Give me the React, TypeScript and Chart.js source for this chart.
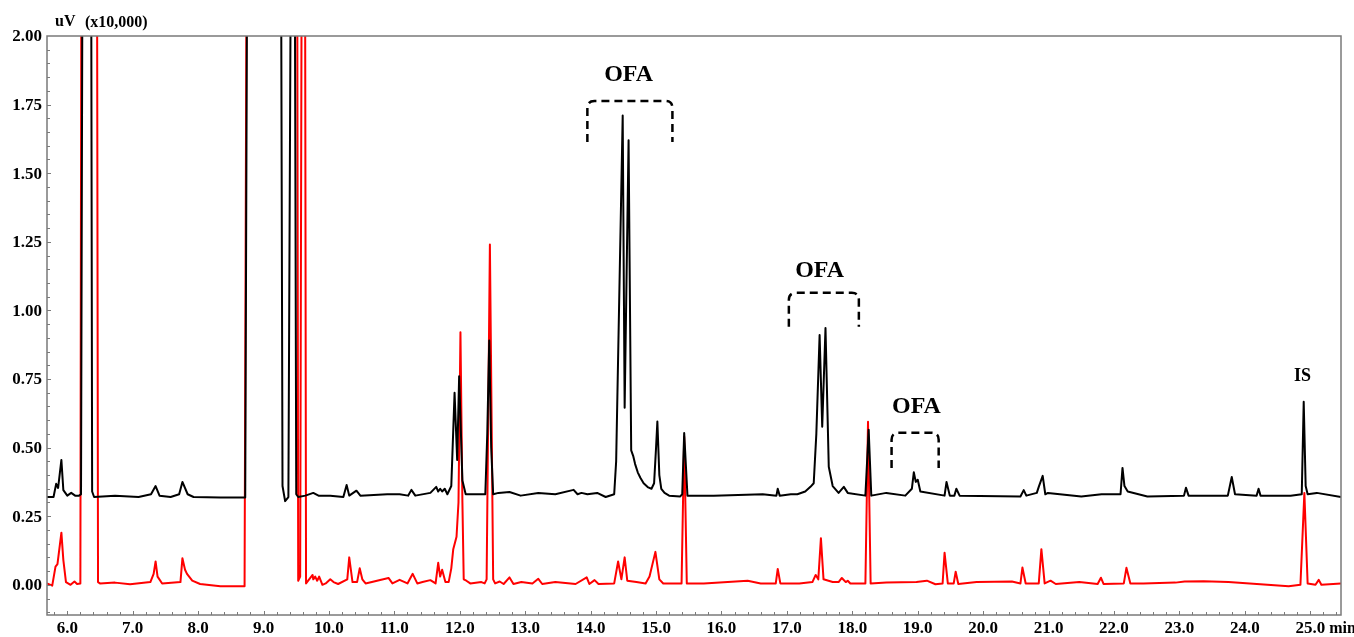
import React, { useEffect, useRef } from "react";
import { Chart, registerables } from "chart.js";

Chart.register(...registerables);

// ---- Data (retention time in min, signal in uV x10,000) ----
const blackTimes = [
  5.69, 5.79, 5.83, 5.86, 5.91, 5.94, 6.0, 6.06, 6.12, 6.18, 6.21, 6.24, 6.36, 6.38, 6.41,
  6.73, 7.09, 7.28, 7.35, 7.41, 7.58, 7.71, 7.76, 7.84, 7.93, 8.34, 8.72, 8.76, 9.26, 9.29,
  9.33, 9.38, 9.43, 9.47, 9.5, 9.53, 9.64, 9.76, 9.84, 10.02, 10.22, 10.27, 10.31, 10.42,
  10.48, 10.89, 11.08, 11.21, 11.26, 11.32, 11.55, 11.64, 11.67, 11.7, 11.73, 11.77, 11.81,
  11.87, 11.92, 11.96, 11.99, 12.04, 12.09, 12.39, 12.42, 12.45, 12.48, 12.51, 12.59, 12.76,
  12.93, 13.2, 13.46, 13.74, 13.8, 13.86, 13.95, 14.1, 14.23, 14.36, 14.39, 14.49, 14.52,
  14.58, 14.62, 14.65, 14.68, 14.72, 14.76, 14.81, 14.88, 14.93, 14.97, 15.0, 15.02, 15.05,
  15.08, 15.13, 15.2, 15.37, 15.4, 15.43,
  15.48, 15.88, 16.63, 16.84, 16.86, 16.89, 17.06, 17.16, 17.28, 17.36, 17.41, 17.45, 17.5,
  17.54, 17.59, 17.64, 17.7, 17.79, 17.87, 17.93, 18.2, 18.25, 18.29, 18.52, 18.81, 18.91,
  18.94, 18.97, 19.0, 19.04, 19.41, 19.44, 19.49, 19.56, 19.59, 19.64, 20.57, 20.62, 20.66,
  20.82, 20.85, 20.91, 20.95, 20.99, 21.5, 21.81, 22.1, 22.13, 22.16, 22.21, 22.51, 23.07,
  23.1, 23.14, 23.74, 23.8, 23.85, 24.18, 24.21, 24.24, 24.7, 24.87, 24.9, 24.93, 24.96,
  25.1, 25.47,
];
const blackValues = [
  0.32, 0.32, 0.368, 0.353, 0.455, 0.345, 0.325, 0.335, 0.325, 0.325, 0.33, 3.0, 3.0, 0.34, 0.32,
  0.325, 0.32, 0.33, 0.36, 0.325, 0.32, 0.33, 0.375, 0.33, 0.32, 0.318, 0.318, 3.0, 3.0, 0.36,
  0.305, 0.32, 3.0, 3.0, 0.33, 0.32, 0.325, 0.335, 0.325, 0.325, 0.32, 0.364, 0.325, 0.343,
  0.325, 0.33, 0.33, 0.325, 0.346, 0.325, 0.335, 0.357, 0.34, 0.35, 0.34, 0.35, 0.33,
  0.36, 0.7, 0.455, 0.76, 0.38, 0.33, 0.33, 0.55, 0.89, 0.5, 0.33, 0.335, 0.338,
  0.325, 0.335, 0.33, 0.346, 0.33, 0.335, 0.33, 0.335, 0.32, 0.33, 0.45, 1.71, 0.645,
  1.62, 0.49, 0.47, 0.44, 0.41, 0.39, 0.37, 0.355, 0.35, 0.37, 0.5, 0.595, 0.4,
  0.35, 0.335, 0.325, 0.322, 0.33, 0.553,
  0.325, 0.325, 0.33, 0.325, 0.35, 0.325, 0.33, 0.33, 0.34, 0.357, 0.37, 0.55, 0.91,
  0.576, 0.936, 0.43, 0.36, 0.335, 0.357, 0.335, 0.325, 0.565, 0.325, 0.335, 0.325, 0.35,
  0.41, 0.375, 0.383, 0.34, 0.325, 0.375, 0.325, 0.325, 0.35, 0.325, 0.322, 0.345, 0.325,
  0.335, 0.357, 0.397, 0.33, 0.335, 0.322, 0.33, 0.33, 0.426, 0.36, 0.34, 0.322, 0.325,
  0.354, 0.325, 0.325, 0.393, 0.33, 0.325, 0.35, 0.325, 0.325, 0.33, 0.667, 0.36, 0.33,
  0.335, 0.32,
];

const redTimes = [
  5.69, 5.77, 5.82, 5.85, 5.91, 5.94, 5.98, 6.05, 6.11, 6.15, 6.2, 6.22, 6.45, 6.47, 6.5,
  6.73, 6.96, 7.27, 7.32, 7.35, 7.38, 7.45, 7.73, 7.76, 7.8, 7.83, 7.91, 8.03, 8.34, 8.71,
  8.75, 9.51, 9.53, 9.56, 9.59, 9.63, 9.65, 9.75, 9.76, 9.79, 9.82, 9.85, 9.9, 9.95, 10.02,
  10.07, 10.14, 10.28, 10.31, 10.36, 10.43, 10.47, 10.51, 10.56, 10.91, 10.97, 11.08, 11.2,
  11.28, 11.35, 11.43, 11.55, 11.63, 11.67, 11.7, 11.73, 11.78, 11.83, 11.87, 11.9, 11.95,
  11.98, 12.01, 12.04, 12.06, 12.1, 12.16, 12.33, 12.38, 12.41, 12.46, 12.51, 12.54, 12.61,
  12.67, 12.76, 12.82, 12.94, 13.11, 13.2, 13.26, 13.46, 13.77, 13.94, 13.98, 14.06, 14.12,
  14.36, 14.42, 14.47, 14.52, 14.56, 14.7, 14.84, 14.9, 14.99, 15.05, 15.11, 15.39, 15.43,
  15.47, 15.73, 16.4, 16.6, 16.83, 16.86, 16.9, 17.19, 17.39, 17.44, 17.48, 17.52, 17.56,
  17.7, 17.79, 17.84, 17.9, 17.93, 17.97, 18.2, 18.24, 18.28, 18.52, 18.98, 19.14, 19.27,
  19.38, 19.41, 19.46, 19.55, 19.58, 19.62, 19.9, 20.44, 20.57, 20.6, 20.65, 20.85, 20.89,
  20.94, 21.03, 21.11, 21.47, 21.75, 21.8, 21.84, 22.15, 22.19, 22.25, 22.45, 22.94, 23.08,
  23.37, 23.75, 24.67, 24.85, 24.91, 24.96, 25.08, 25.13, 25.17, 25.47,
];
const redValues = [
  0.005, -0.003, 0.066, 0.075, 0.19, 0.09, 0.01, 0.0, 0.012, 0.003, 0.005, 3.0, 3.0, 0.01, 0.005,
  0.008, 0.002, 0.01, 0.04, 0.085, 0.03, 0.005, 0.01, 0.097, 0.055, 0.04, 0.015, 0.003, -0.005, -0.005,
  3.0, 3.0, 0.015, 0.03, 3.0, 3.0, 0.005, 0.036, 0.02, 0.03, 0.015, 0.03, 0.0, 0.005, 0.02,
  0.01, 0.003, 0.02, 0.1, 0.01, 0.01, 0.06, 0.02, 0.005, 0.025, 0.005, 0.018, 0.005,
  0.04, 0.005, 0.01, 0.017, 0.005, 0.08, 0.03, 0.055, 0.01, 0.01, 0.06, 0.13, 0.175,
  0.3, 0.92, 0.3, 0.02, 0.015, 0.005, 0.01, 0.005, 0.02, 1.24, 0.02, 0.005, 0.012,
  0.003, 0.027, 0.003, 0.01, 0.005, 0.022, 0.003, 0.01, 0.003, 0.027, 0.003, 0.017, 0.003,
  0.005, 0.085, 0.02, 0.1, 0.015, 0.01, 0.005, 0.03, 0.12, 0.02, 0.005, 0.005, 0.54,
  0.005, 0.005, 0.015, 0.005, 0.005, 0.058, 0.005, 0.005, 0.01, 0.036, 0.02, 0.17, 0.02,
  0.01, 0.01, 0.025, 0.01, 0.015, 0.005, 0.005, 0.594, 0.005, 0.008, 0.01, 0.015, 0.002,
  0.005, 0.117, 0.005, 0.005, 0.048, 0.003, 0.01, 0.012, 0.005, 0.063, 0.005, 0.005, 0.13,
  0.005, 0.015, 0.003, 0.01, 0.003, 0.026, 0.003, 0.005, 0.062, 0.005, 0.005, 0.008, 0.012,
  0.013, 0.01, -0.005, 0.0, 0.335, 0.005, 0.0, 0.018, 0.0, 0.005,
];

// ---- Axes ----
const xMin = 5.69;
const xMax = 25.47;
const yMin = -0.11;
const yMax = 2.0;
const xTickValues = [6, 7, 8, 9, 10, 11, 12, 13, 14, 15, 16, 17, 18, 19, 20, 21, 22, 23, 24, 25];
const xTickLabels = ["6.0", "7.0", "8.0", "9.0", "10.0", "11.0", "12.0", "13.0", "14.0", "15.0", "16.0", "17.0", "18.0", "19.0", "20.0", "21.0", "22.0", "23.0", "24.0", "25.0"];
const xUnit = "min";
const yTickValues = [0, 0.25, 0.5, 0.75, 1.0, 1.25, 1.5, 1.75, 2.0];
const yTickLabels = ["0.00", "0.25", "0.50", "0.75", "1.00", "1.25", "1.50", "1.75", "2.00"];
const yUnitLabel = "uV";
const yScaleLabel = "(x10,000)";

// ---- Annotations (data coordinates) ----
const bracketLabels = ["OFA", "OFA", "OFA"];
const bracketStart = [13.95, 17.03, 18.6];
const bracketEnd = [15.25, 18.1, 19.32];
const bracketTop = [1.763, 1.064, 0.554];
const bracketBottom = [1.614, 0.94, 0.426];
const bracketLabelX = [14.58, 17.5, 18.98];
const bracketLabelY = [1.858, 1.144, 0.648];
const isLabel = "IS";
const isLabelX = 24.88;
const isLabelY = 0.758;

const SERIF = '"Liberation Serif", "Times New Roman", serif';

const decorPlugin = {
  id: "decor",
  afterDatasetsDraw(chart: any) {
    const { ctx, chartArea: a } = chart;
    const xs = chart.scales.x;
    const ys = chart.scales.y;
    ctx.save();
    // frame
    ctx.strokeStyle = "#7a7a7a";
    ctx.lineWidth = 1.5;
    ctx.setLineDash([]);
    ctx.strokeRect(a.left, a.top, a.right - a.left, a.bottom - a.top);

    // minor ticks (inward)
    ctx.lineWidth = 1;
    ctx.strokeStyle = "#7a7a7a";
    ctx.beginPath();
    for (let i = 0; i < xTickValues.length; i++) {
      const base = xTickValues[i];
      for (let k = -4; k <= 4; k++) {
        const v = base + k * 0.2;
        if (v <= xMin || v >= xMax) continue;
        const px = Math.round(xs.getPixelForValue(v)) + 0.5;
        const len = k === 0 ? 4 : 3;
        ctx.moveTo(px, a.bottom);
        ctx.lineTo(px, a.bottom - len);
      }
    }
    for (let i = 0; i < yTickValues.length; i++) {
      const base = yTickValues[i];
      for (let k = -2; k <= 2; k++) {
        const v = base + k * 0.05;
        if (v <= yMin || v >= yMax) continue;
        const py = Math.round(ys.getPixelForValue(v)) + 0.5;
        const len = k === 0 ? 4 : 3;
        ctx.moveTo(a.left, py);
        ctx.lineTo(a.left + len, py);
      }
    }
    ctx.stroke();

    // tick labels
    ctx.fillStyle = "#000";
    ctx.font = `bold 17px ${SERIF}`;
    ctx.textAlign = "right";
    ctx.textBaseline = "middle";
    yTickValues.forEach((v, i) => {
      ctx.fillText(yTickLabels[i], a.left - 5, ys.getPixelForValue(v) + 1);
    });
    xTickValues.forEach((v, i) => {
      const px = xs.getPixelForValue(v);
      const label = xTickLabels[i];
      const w = ctx.measureText(label).width;
      ctx.textAlign = "left";
      ctx.fillText(label, px - w / 2, a.bottom + 14);
      if (i === xTickValues.length - 1) {
        ctx.font = `bold 16px ${SERIF}`;
        ctx.fillText(xUnit, px + w / 2 + 4, a.bottom + 14);
        ctx.font = `bold 17px ${SERIF}`;
      }
    });

    // y unit
    ctx.font = `bold 16px ${SERIF}`;
    ctx.textAlign = "left";
    ctx.textBaseline = "middle";
    ctx.fillText(yUnitLabel, 55, a.top - 14);
    ctx.fillText(yScaleLabel, 85, a.top - 13);

    // brackets
    ctx.strokeStyle = "#000";
    ctx.lineWidth = 2.5;
    ctx.setLineDash([8, 5]);
    for (let i = 0; i < bracketLabels.length; i++) {
      const x0 = xs.getPixelForValue(bracketStart[i]);
      const x1 = xs.getPixelForValue(bracketEnd[i]);
      const yt = ys.getPixelForValue(bracketTop[i]);
      const yb = ys.getPixelForValue(bracketBottom[i]);
      const r = 7;
      ctx.beginPath();
      ctx.moveTo(x0, yb);
      ctx.lineTo(x0, yt + r);
      ctx.quadraticCurveTo(x0, yt, x0 + r, yt);
      ctx.lineTo(x1 - r, yt);
      ctx.quadraticCurveTo(x1, yt, x1, yt + r);
      ctx.lineTo(x1, yb);
      ctx.stroke();
    }
    ctx.setLineDash([]);
    ctx.fillStyle = "#000";
    ctx.textAlign = "center";
    ctx.textBaseline = "middle";
    ctx.font = `bold 24px ${SERIF}`;
    for (let i = 0; i < bracketLabels.length; i++) {
      ctx.fillText(bracketLabels[i], xs.getPixelForValue(bracketLabelX[i]), ys.getPixelForValue(bracketLabelY[i]));
    }
    ctx.font = `bold 18px ${SERIF}`;
    ctx.fillText(isLabel, xs.getPixelForValue(isLabelX), ys.getPixelForValue(isLabelY));
    ctx.restore();
  },
};

export default function App() {
  const canvasRef = useRef<HTMLCanvasElement | null>(null);

  useEffect(() => {
    if (!canvasRef.current) return;
    const black = blackTimes.map((t, i) => ({ x: t, y: blackValues[i] }));
    const red = redTimes.map((t, i) => ({ x: t, y: redValues[i] }));
    const chart = new Chart(canvasRef.current, {
      type: "line",
      data: {
        datasets: [
          {
            label: "Sample A",
            data: black,
            borderColor: "#000000",
            borderWidth: 2,
            pointRadius: 0,
            tension: 0,
            borderJoinStyle: "round",
            fill: false,
            order: 0,
          },
          {
            label: "Sample B",
            data: red,
            borderColor: "#ff0000",
            borderWidth: 2,
            pointRadius: 0,
            tension: 0,
            borderJoinStyle: "round",
            fill: false,
            order: 1,
          },
        ],
      },
      options: {
        animation: false,
        responsive: false,
        maintainAspectRatio: false,
        events: [],
        layout: { padding: { left: 47, top: 36, right: 13, bottom: 22 } },
        plugins: {
          legend: { display: false },
          tooltip: { enabled: false },
        },
        scales: {
          x: { type: "linear", min: xMin, max: xMax, display: false },
          y: { type: "linear", min: yMin, max: yMax, display: false },
        },
      },
      plugins: [decorPlugin],
    });
    return () => chart.destroy();
  }, []);

  return (
    <div style={{ position: "fixed", left: 0, top: 0, width: 1354, height: 637, background: "#fff" }}>
      <canvas ref={canvasRef} width={1354} height={637} style={{ display: "block" }} />
    </div>
  );
}
